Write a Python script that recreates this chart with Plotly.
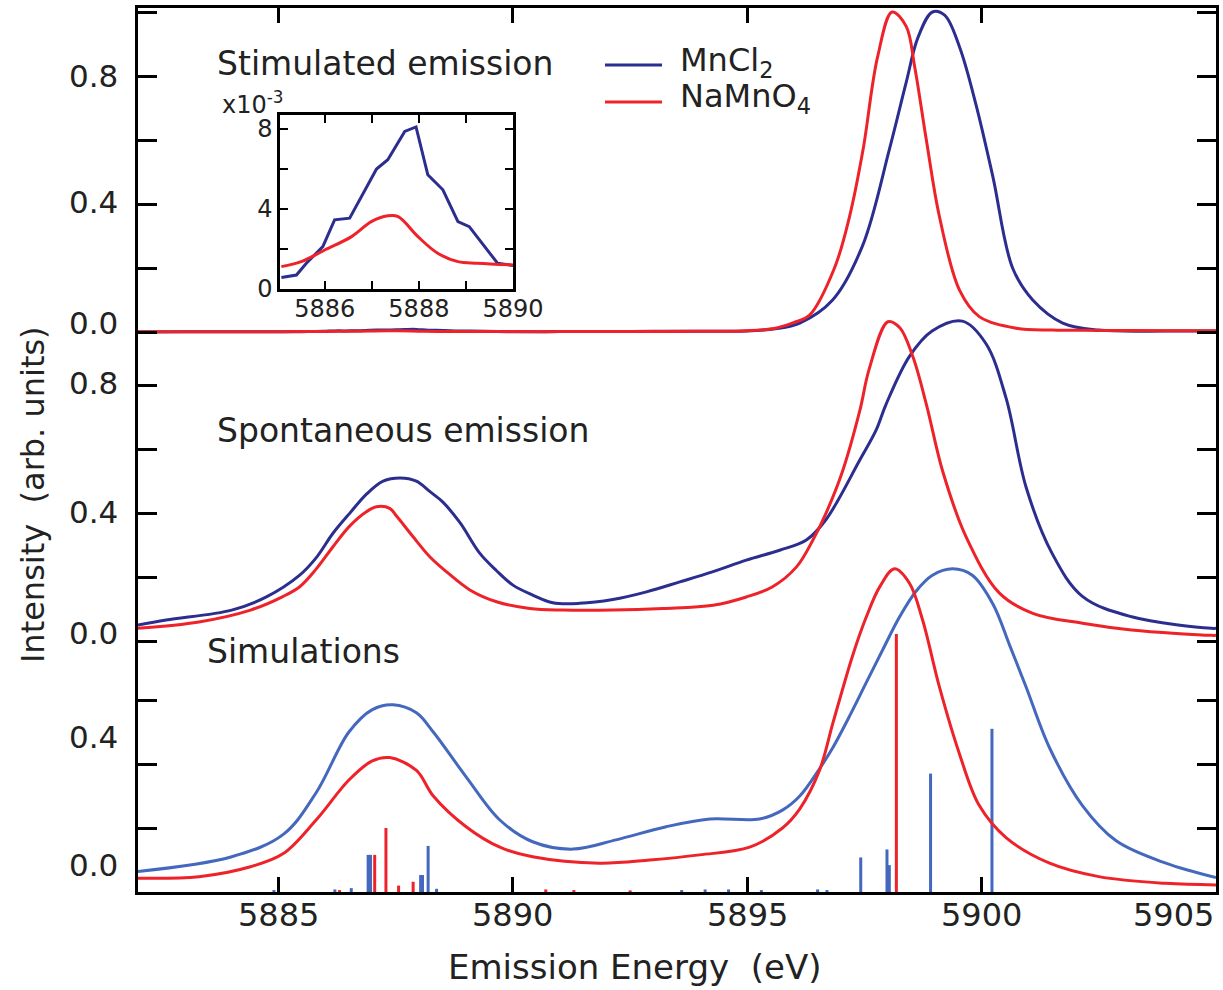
import plotly.graph_objects as go

# ---------------- data ----------------
# Inset: stimulated emission in the Kbeta'' region, units of 1e-3
inset_mncl2_e = [5885.08, 5885.40, 5885.61, 5885.96, 5886.21, 5886.53, 5887.10, 5887.34,
                 5887.70, 5887.94, 5888.19, 5888.51, 5888.83, 5889.07, 5889.67, 5890.03]
inset_mncl2_i = [0.58, 0.70, 1.29, 2.12, 3.46, 3.54, 6.00, 6.46,
                 7.88, 8.10, 5.71, 4.96, 3.37, 3.12, 1.29, 1.17]
inset_namno4_e = [5885.08, 5885.50, 5886.00, 5886.57, 5886.99, 5887.34, 5887.56,
                  5887.98, 5888.40, 5888.83, 5889.25, 5890.03]
inset_namno4_i = [1.12, 1.37, 1.95, 2.62, 3.37, 3.66, 3.62,
                  2.62, 1.79, 1.37, 1.29, 1.20]

# Stimulated emission, normalised (outside the inset window)
stim_mncl2_pre_e = [5882.0, 5883.0, 5884.0]
stim_mncl2_pre_i = [0.0003, 0.0004, 0.0005]
stim_mncl2_post_e = [5891.0, 5892.0, 5893.0, 5894.0, 5895.0, 5895.6, 5896.12, 5896.82, 5897.46,
                     5898.03, 5898.39, 5898.64, 5898.95, 5899.21, 5899.53, 5899.88, 5900.24,
                     5900.66, 5901.09, 5901.73, 5902.5, 5904.0, 5905.0]
stim_mncl2_post_i = [0.0012, 0.0015, 0.002, 0.0025, 0.003, 0.010, 0.028, 0.10, 0.27,
                     0.57, 0.78, 0.92, 1.0, 0.99, 0.89, 0.71, 0.485,
                     0.20, 0.10, 0.028, 0.006, 0.003, 0.003]
stim_namno4_pre_e = [5882.0, 5883.0, 5884.0]
stim_namno4_pre_i = [0.0008, 0.0009, 0.001]
stim_namno4_post_e = [5891.0, 5892.0, 5893.0, 5894.0, 5895.0, 5895.6, 5896.0, 5896.33, 5896.86,
                      5897.18, 5897.47, 5897.78, 5898.09, 5898.39, 5898.57, 5898.82, 5899.10,
                      5899.53, 5899.95, 5900.74, 5901.5, 5902.5, 5904.0, 5905.0]
stim_namno4_post_i = [0.0012, 0.0014, 0.0017, 0.0022, 0.004, 0.012, 0.030, 0.053, 0.20,
                      0.36, 0.57, 0.86, 1.0, 0.955, 0.83, 0.60, 0.36,
                      0.13, 0.048, 0.012, 0.006, 0.005, 0.004, 0.004]

# Spontaneous emission, normalised
spon_mncl2_e = [5882.0, 5882.6, 5884.0, 5884.74, 5885.45, 5885.8, 5886.16, 5886.52, 5886.88,
                5887.23, 5887.59, 5887.94, 5888.23, 5888.5, 5888.87, 5889.29, 5889.65, 5890.0,
                5890.42, 5890.85, 5891.42, 5892.13, 5892.85, 5893.56, 5894.27, 5894.98,
                5895.69, 5896.26, 5896.68, 5897.4, 5897.75, 5897.96, 5898.46, 5898.95,
                5899.59, 5900.09, 5900.52, 5900.95, 5901.5, 5902.15, 5903.2, 5904.9, 5905.0]
spon_mncl2_i = [0.05, 0.066, 0.097, 0.138, 0.206, 0.26, 0.337, 0.40, 0.46,
                0.50, 0.51, 0.50, 0.467, 0.435, 0.37, 0.275, 0.22, 0.175,
                0.144, 0.12, 0.118, 0.13, 0.154, 0.185, 0.217, 0.253,
                0.284, 0.316, 0.38, 0.566, 0.66, 0.74, 0.89, 0.97,
                1.0, 0.93, 0.76, 0.48, 0.275, 0.14, 0.076, 0.04, 0.04]
spon_namno4_e = [5882.0, 5883.3, 5884.4, 5885.1, 5885.45, 5885.8, 5886.16, 5886.52, 5886.88,
                 5887.09, 5887.37, 5887.52, 5887.87, 5888.23, 5888.58, 5889.08, 5889.65,
                 5890.36, 5891.06, 5892.13, 5893.2, 5894.27, 5894.98, 5895.54, 5896.05,
                 5896.4, 5896.68, 5897.03, 5897.4, 5897.6, 5898.0, 5898.25, 5898.53, 5898.82,
                 5899.17, 5899.67, 5900.38, 5901.09, 5902.15, 5903.2, 5904.9, 5905.0]
spon_namno4_i = [0.04, 0.06, 0.097, 0.14, 0.17, 0.225, 0.295, 0.36, 0.405,
                 0.42, 0.415, 0.39, 0.326, 0.263, 0.217, 0.16, 0.123,
                 0.102, 0.097, 0.097, 0.102, 0.112, 0.138, 0.17, 0.232,
                 0.316, 0.40, 0.53, 0.72, 0.85, 0.998, 0.98, 0.89, 0.74,
                 0.53, 0.325, 0.15, 0.087, 0.056, 0.035, 0.018, 0.018]

# Simulated spectra (broadened)
sim_mncl2_e = [5882.0, 5884.0, 5885.1, 5885.8, 5886.5, 5887.0, 5887.44, 5887.94, 5888.3,
               5889.0, 5889.72, 5890.42, 5891.28, 5892.2, 5893.27, 5894.2, 5895.26, 5895.75,
               5896.12, 5896.54, 5896.82, 5897.2, 5897.54, 5897.9, 5898.25, 5898.6, 5898.95,
               5899.38, 5899.8, 5900.24, 5900.6, 5900.95, 5901.45, 5902.15, 5902.87, 5903.93,
               5905.0]
sim_mncl2_i = [0.064, 0.11, 0.18, 0.31, 0.50, 0.57, 0.585, 0.56, 0.50,
               0.36, 0.225, 0.157, 0.134, 0.163, 0.204, 0.228, 0.228, 0.256,
               0.30, 0.385, 0.45, 0.555, 0.655, 0.76, 0.86, 0.94, 0.99,
               1.01, 0.99, 0.90, 0.77, 0.64, 0.45, 0.27, 0.16, 0.09,
               0.045]
sim_namno4_e = [5882.0, 5883.3, 5884.4, 5885.1, 5885.8, 5886.5, 5887.0, 5887.37, 5887.94,
                5888.3, 5889.0, 5889.72, 5890.42, 5891.85, 5892.92, 5893.98, 5895.05, 5895.75,
                5896.12, 5896.54, 5896.83, 5897.25, 5897.54, 5897.83, 5898.14, 5898.46, 5898.74,
                5899.1, 5899.53, 5899.95, 5900.52, 5901.45, 5902.5, 5903.93, 5905.0]
sim_namno4_i = [0.043, 0.048, 0.079, 0.12, 0.225, 0.35, 0.41, 0.42, 0.38,
                0.30, 0.204, 0.14, 0.11, 0.09, 0.10, 0.116, 0.14, 0.20,
                0.26, 0.38, 0.53, 0.74, 0.86, 0.955, 1.01, 0.965, 0.85,
                0.64, 0.43, 0.27, 0.17, 0.09, 0.048, 0.027, 0.022]

# Transition sticks
stick_mncl2_e = [5884.9, 5886.2, 5886.55, 5886.91, 5886.96, 5888.03, 5888.07, 5888.19, 5888.37,
                 5893.6, 5894.1, 5894.6, 5895.3, 5896.5, 5896.7,
                 5897.42, 5897.98, 5898.03, 5898.91, 5900.22]
stick_mncl2_i = [0.006, 0.008, 0.012, 0.116, 0.116, 0.053, 0.053, 0.144, 0.01,
                 0.006, 0.008, 0.008, 0.006, 0.008, 0.006,
                 0.108, 0.133, 0.084, 0.37, 0.51]
stick_namno4_e = [5886.3, 5887.05, 5887.29, 5887.56, 5887.87, 5890.7, 5891.3, 5892.5, 5898.18]
stick_namno4_i = [0.006, 0.116, 0.20, 0.02, 0.032, 0.008, 0.006, 0.005, 0.806]

# Vertical offsets of the three stacked panels (shared y axis)
OFFSET_SIM = 0.0
OFFSET_SPON = 0.784
OFFSET_STIM = 1.75
Y_TOP = 2.7625

# Left-axis tick labels: (panel offset, value, label nudge)
ylabels = [(OFFSET_STIM, 0.8, 0.0), (OFFSET_STIM, 0.4, 0.006), (OFFSET_STIM, 0.0, 0.028),
           (OFFSET_SPON, 0.8, 0.006), (OFFSET_SPON, 0.4, 0.004), (OFFSET_SPON, 0.0, 0.025),
           (OFFSET_SIM, 0.4, 0.084), (OFFSET_SIM, 0.0, 0.084)]

x_ticks = [5885, 5890, 5895, 5900, 5905]

BLUE_EXP = '#2b2e8f'
BLUE_SIM = '#4468bd'
RED = '#ee2229'
INK = '#222222'
FONT = 'DejaVu Sans'

# ---------------- figure ----------------
fig = go.Figure()


def line(x, y, color, offset=0.0, width=3, shape='spline', xa='x', ya='y'):
    fig.add_trace(go.Scatter(
        x=x, y=[v + offset for v in y], mode='lines',
        line=dict(color=color, width=width, shape=shape, smoothing=1.0),
        xaxis=xa, yaxis=ya, showlegend=False, hoverinfo='skip'))


def sticks(x, y, color, offset=0.0):
    xs, ys = [], []
    for e, v in zip(x, y):
        xs += [e, e, None]
        ys += [offset, offset + v, None]
    fig.add_trace(go.Scatter(x=xs, y=ys, mode='lines', line=dict(color=color, width=3),
                             showlegend=False, hoverinfo='skip'))


# Simulations panel
sticks(stick_mncl2_e, stick_mncl2_i, BLUE_SIM, OFFSET_SIM)
sticks(stick_namno4_e, stick_namno4_i, RED, OFFSET_SIM)
line(sim_mncl2_e, sim_mncl2_i, BLUE_SIM, OFFSET_SIM)
line(sim_namno4_e, sim_namno4_i, RED, OFFSET_SIM)

# Spontaneous emission panel
line(spon_mncl2_e, spon_mncl2_i, BLUE_EXP, OFFSET_SPON)
line(spon_namno4_e, spon_namno4_i, RED, OFFSET_SPON)

# Stimulated emission panel (inset region included at full scale)
stim_mncl2_e = stim_mncl2_pre_e + inset_mncl2_e + stim_mncl2_post_e
stim_mncl2_i = stim_mncl2_pre_i + [v * 1e-3 for v in inset_mncl2_i] + stim_mncl2_post_i
stim_namno4_e = stim_namno4_pre_e + inset_namno4_e + stim_namno4_post_e
stim_namno4_i = stim_namno4_pre_i + [v * 1e-3 for v in inset_namno4_i] + stim_namno4_post_i
line(stim_mncl2_e, stim_mncl2_i, BLUE_EXP, OFFSET_STIM)
line(stim_namno4_e, stim_namno4_i, RED, OFFSET_STIM)

# Inset
line(inset_mncl2_e, inset_mncl2_i, BLUE_EXP, shape='linear', xa='x2', ya='y2')
line(inset_namno4_e, inset_namno4_i, RED, shape='spline', xa='x2', ya='y2')

# y tick positions of all three panels
y_tickvals = [OFFSET_SIM + v for v in (0.2, 0.4, 0.6)]
y_tickvals += [OFFSET_SPON + v for v in (0.0, 0.2, 0.4, 0.6, 0.8)]
y_tickvals += [OFFSET_STIM + v for v in (0.0, 0.2, 0.4, 0.6, 0.8, 1.0)]

fig.update_layout(
    width=1223, height=990, autosize=False,
    margin=dict(l=138, r=7, t=8, b=98, pad=0, autoexpand=False),
    paper_bgcolor='white', plot_bgcolor='white', showlegend=False,
    font=dict(family=FONT, color=INK),
    xaxis=dict(range=[5882, 5905], tickvals=x_ticks, showticklabels=False,
               ticks='inside', ticklen=15, tickwidth=3, tickcolor='black',
               showline=True, linewidth=3, linecolor='black', mirror='ticks',
               showgrid=False, zeroline=False, automargin=False),
    yaxis=dict(range=[0, Y_TOP], tickvals=y_tickvals, showticklabels=False,
               ticks='inside', ticklen=19, tickwidth=3, tickcolor='black',
               showline=True, linewidth=3, linecolor='black', mirror='ticks',
               showgrid=False, zeroline=False, automargin=False),
    xaxis2=dict(domain=[0.1317, 0.3479], anchor='y2', range=[5885.05, 5890],
                tickvals=[5886, 5887, 5888, 5889, 5890],
                ticktext=['5886', '', '5888', '', '5890'],
                ticks='inside', ticklen=8, tickwidth=2, tickcolor='black',
                showline=True, linewidth=2.5, linecolor='black', mirror='ticks',
                showgrid=False, zeroline=False, automargin=False, ticklabelstandoff=-4,
                tickfont=dict(size=24, color=INK)),
    yaxis2=dict(domain=[0.6821, 0.879], anchor='x2', range=[0, 8.7],
                tickvals=[0, 2, 4, 6, 8], ticktext=['0', '', '4', '', '8'],
                ticks='inside', ticklen=8, tickwidth=2, tickcolor='black',
                showline=True, linewidth=2.5, linecolor='black', mirror='ticks',
                showgrid=False, zeroline=False, automargin=False,
                tickfont=dict(size=24, color=INK)),
)

ann = []
# y tick labels of the stacked panels
for off, val, nudge in ylabels:
    ann.append(dict(x=-0.0167, y=off + val + nudge, xref='paper', yref='y',
                    text=f'{val:.1f}', showarrow=False, xanchor='right', yanchor='middle',
                    font=dict(size=31, color=INK)))
# x tick labels (last one kept inside the frame)
for i, t in enumerate(x_ticks):
    last = i == len(x_ticks) - 1
    ann.append(dict(x=t, y=-0.026, xref='x', yref='paper', text=str(t), showarrow=False,
                    xanchor='right' if last else 'center', yanchor='middle',
                    font=dict(size=32, color=INK)))
ann.append(dict(x=-0.0974, y=0.449, xref='paper', yref='paper', textangle=-90,
                text='Intensity\u00a0 (arb. units)', showarrow=False,
                xanchor='center', yanchor='middle', font=dict(size=32, color=INK)))
ann.append(dict(x=0.461, y=-0.0848, xref='paper', yref='paper',
                text='Emission Energy\u00a0 (eV)', showarrow=False,
                xanchor='center', yanchor='middle', font=dict(size=34, color=INK)))
for txt, px, py in [('Stimulated emission', 0.0714, 0.9367),
                    ('Spontaneous emission', 0.0714, 0.5226),
                    ('Simulations', 0.0622, 0.2726)]:
    ann.append(dict(x=px, y=py, xref='paper', yref='paper', text=txt, showarrow=False,
                    xanchor='left', yanchor='middle', font=dict(size=33, color=INK)))
ann.append(dict(x=0.0761, y=0.8925, xref='paper', yref='paper', text='x10<sup>-3</sup>',
                showarrow=False, xanchor='left', yanchor='middle', font=dict(size=24, color=INK)))

# Legend
legend_items = [('MnCl<sub>2</sub>', BLUE_EXP, 0.9355, 0.939),
                ('NaMnO<sub>4</sub>', RED, 0.8937, 0.898)]
shapes = []
for txt, col, ly, ty in legend_items:
    shapes.append(dict(type='line', xref='paper', yref='paper', x0=0.4332, x1=0.4861,
                       y0=ly, y1=ly, line=dict(color=col, width=3)))
    ann.append(dict(x=0.5009, y=ty, xref='paper', yref='paper', text=txt, showarrow=False,
                    xanchor='left', yanchor='middle', font=dict(size=32, color=INK)))

fig.update_layout(annotations=ann, shapes=shapes)
fig.write_html('out.html')
